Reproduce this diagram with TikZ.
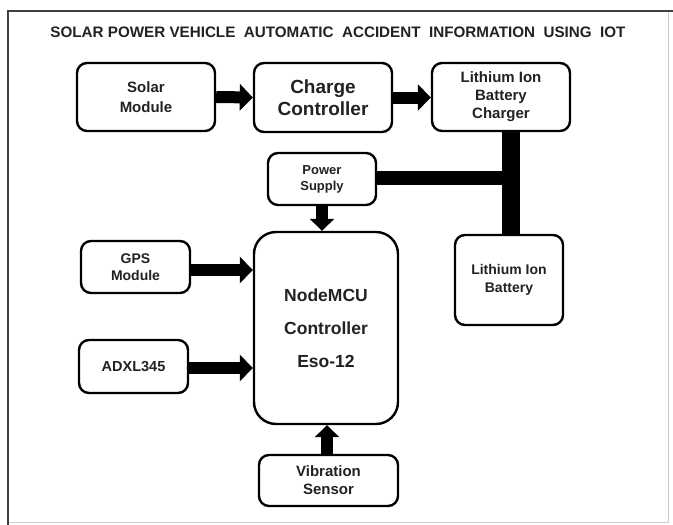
\documentclass[tikz,border=0pt]{standalone}
\usepackage{fontspec}
\setmainfont{Liberation Sans}
\usetikzlibrary{arrows.meta}
\definecolor{txt}{HTML}{222222}
\tikzset{
  blk/.style={draw=black, line width=2.4pt, rounded corners=10pt, fill=white,
    align=center, inner sep=0pt, text=txt, font=\bfseries},
  arr/.style={line width=12pt, -{Triangle[length=13pt,width=26pt]}},
}
\begin{document}
\begin{tikzpicture}[x=1pt,y=-1pt]
\useasboundingbox (0,0) rectangle (673,525);
\fill[white] (0,0) rectangle (673,525);
% frame
\draw[line width=0.8pt, gray!40] (668,11) -- (668,522) -- (8,522);
\draw[line width=2pt, black!75] (8,525) -- (8,11) -- (673,11);
% title
\node[text=txt, font=\bfseries\fontsize{15.2}{17}\selectfont] (title) at (338,32)
  {SOLAR POWER VEHICLE\ \ AUTOMATIC\ \ ACCIDENT\ \ INFORMATION\ \ USING\ \ IOT};
% blocks
\node[blk, minimum width=138pt, minimum height=68pt, font=\bfseries\fontsize{15}{20}\selectfont] (solar) at (146,97) {Solar\\Module};
\node[blk, minimum width=138pt, minimum height=69pt, font=\bfseries\fontsize{19}{22}\selectfont] (charge) at (323,97.5) {Charge\\Controller};
\node[blk, minimum width=138pt, minimum height=68pt, font=\bfseries\fontsize{15}{18}\selectfont] (lic) at (501,97) {Lithium Ion\\Battery\\Charger};
\node[blk, minimum width=108pt, minimum height=52pt, font=\bfseries\fontsize{13}{16}\selectfont] (ps) at (322,179) {Power\\Supply};
\node[blk, rounded corners=22pt, minimum width=144pt, minimum height=192pt, font=\bfseries\fontsize{17.5}{33}\selectfont] (mcu) at (326,328) {NodeMCU\\Controller\\Eso-12};
\node[blk, minimum width=109pt, minimum height=52pt, font=\bfseries\fontsize{14}{17}\selectfont] (gps) at (135.5,267) {GPS\\Module};
\node[blk, minimum width=109pt, minimum height=53pt, font=\bfseries\fontsize{14.5}{16}\selectfont] (adxl) at (133.5,366.5) {ADXL345};
\node[blk, minimum width=139pt, minimum height=51pt, font=\bfseries\fontsize{15}{18}\selectfont] (vib) at (328.5,480.5) {Vibration\\Sensor};
\node[blk, minimum width=108pt, minimum height=90pt, font=\bfseries\fontsize{14}{18}\selectfont] (bat) at (509,280) {Lithium Ion\\Battery};
% bus
\coordinate (jx) at (511,178);
\draw[line width=18pt] (lic.south -| jx) -- (bat.north -| jx);
\draw[line width=14pt] (ps.east |- jx) -- ([xshift=1pt]jx);
% arrows
\draw[arr] (solar.east) -- (charge.west);
\draw[arr] (charge.east) -- (charge.east -| lic.west);
\draw[arr, -{Triangle[length=12pt,width=24pt]}] (ps.south) -- (ps.south |- mcu.north);
\draw[arr] (gps.east |- 0,270) -- (mcu.west |- 0,270);
\draw[arr] (adxl.east |- 0,368) -- (mcu.west |- 0,368);
\draw[arr, -{Triangle[length=12pt,width=24pt]}] (vib.north -| 327,0) -- (mcu.south -| 327,0);
\end{tikzpicture}
\end{document}
